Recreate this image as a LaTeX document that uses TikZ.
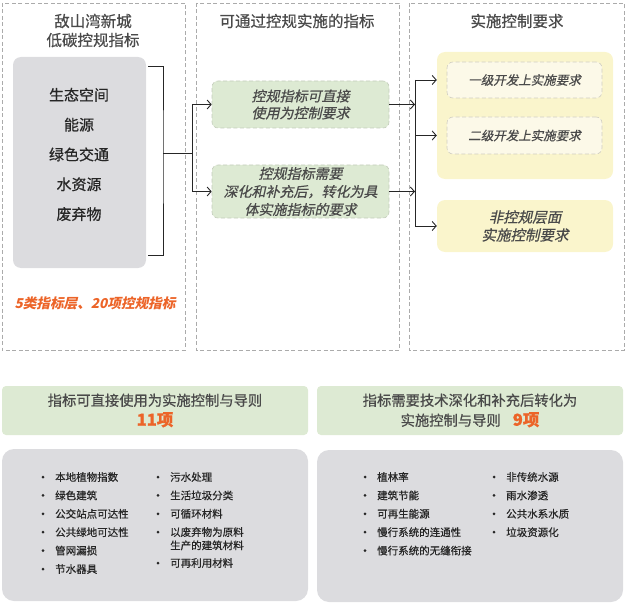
\documentclass[tikz,border=0pt]{standalone}
\usepackage{fontspec}
\setmainfont{Noto Sans CJK SC}
\newfontfamily\medcjk[FakeBold=0.6]{Noto Sans CJK SC}
\newfontfamily\slantcjk[FakeSlant=0.22, FakeBold=0.6]{Noto Sans CJK SC}
\newfontfamily\slantbold[FakeSlant=0.22]{Noto Sans CJK SC}
\usetikzlibrary{arrows.meta, calc}
\definecolor{ink}{HTML}{262626}
\definecolor{inksec}{HTML}{4A4A4A}
\definecolor{frame}{HTML}{ABABAB}
\definecolor{panelgray}{HTML}{DCDCDF}
\definecolor{leaf}{HTML}{DDEAD3}
\definecolor{leafline}{HTML}{C3CCBA}
\definecolor{straw}{HTML}{FAF5CC}
\definecolor{strawin}{HTML}{FCF9E8}
\definecolor{strawline}{HTML}{D0CEC2}
\definecolor{accent}{HTML}{EC6428}

\begin{document}
\begin{tikzpicture}[x=1pt, y=-1pt,
    title/.style={font=\medcjk\fontsize{15.5}{19}\selectfont, text=inksec, align=center},
    graybox/.style={fill=panelgray, rounded corners=8pt, inner sep=0},
    leafbox/.style={draw=leafline, dash pattern=on 4pt off 2.5pt, line width=0.6pt, fill=leaf, rounded corners=6pt,
      inner sep=0, align=center, text=inksec, font=\slantcjk\fontsize{14}{17}\selectfont},
    strawbox/.style={fill=straw, rounded corners=8pt, inner sep=0, align=center, text=inksec,
      font=\slantcjk\fontsize{14.5}{18}\selectfont},
    strawin/.style={draw=strawline, dash pattern=on 4pt off 2.5pt, line width=0.6pt, fill=strawin, rounded corners=6pt,
      inner sep=0, text=inksec, font=\slantcjk\fontsize{12.5}{15}\selectfont},
    headbox/.style={fill=leaf, rounded corners=4pt, inner sep=0, align=center, text=inksec,
      font=\medcjk\fontsize{14.3}{20}\selectfont, minimum width=306pt, minimum height=49pt},
    item/.style={anchor=west, inner sep=0, text=ink, align=left, font=\medcjk\fontsize{10.5}{13.3}\selectfont},
    wire/.style={line width=0.9pt, ink},
    arw/.style={wire, -{Straight Barb[length=4pt, width=9pt]}}]
  \useasboundingbox (0,0) rectangle (640,615);
  % three dashed panels
  \draw[frame, dash pattern=on 4pt off 2.5pt, line width=0.7pt] (2,3) rectangle (185,350);
  \draw[frame, dash pattern=on 4pt off 2.5pt, line width=0.7pt] (196,3) rectangle (399,350);
  \draw[frame, dash pattern=on 4pt off 2.5pt, line width=0.7pt] (409,3) rectangle (624,350);
  \node[title] (t1) at (93,30.5) {敌山湾新城\\低碳控规指标};
  \node[title] (t2) at (297,21) {可通过控规实施的指标};
  \node[title] (t3) at (517,21) {实施控制要求};

  % left panel
  \node[graybox, minimum width=133pt, minimum height=211pt] (src) at (79.5,162.5) {};
  \node[align=center, text=ink, font=\medcjk\fontsize{15}{29.8}\selectfont] (layers) at (79,154.5)
    {生态空间\\能源\\绿色交通\\水资源\\废弃物};
  \node[text=accent, font=\slantbold\bfseries\fontsize{13.6}{15}\selectfont] (tally) at (95,303)
    {5类指标层、20项控规指标};

  % middle panel
  \node[leafbox, minimum width=177pt, minimum height=47pt] (g1) at (300.5,104.5) {控规指标可直接\\使用为控制要求};
  \node[leafbox, minimum width=177pt, minimum height=53pt, font=\slantcjk\fontsize{14}{18}\selectfont] (g2) at (300.5,191.5)
    {控规指标需要\\深化和补充后，转化为具\\体实施指标的要求};

  % right panel
  \node[strawbox, minimum width=176pt, minimum height=127pt] (big) at (525,115.5) {};
  \node[strawin, minimum width=155pt, minimum height=36pt] (r1) at (524.5,80) {一级开发上实施要求};
  \node[strawin, minimum width=155pt, minimum height=37pt] (r2) at (524.5,135.5) {二级开发上实施要求};
  \node[strawbox, minimum width=176pt, minimum height=52pt] (y3) at (525,226) {非控规层面\\实施控制要求};

  % connectors
  \coordinate (brtop) at (148,66);
  \coordinate (brbot) at (148,255);
  \coordinate (brmid) at (163,153);
  \coordinate (fork) at (192,153);
  \coordinate (bus) at (415,0);
  \draw[wire] (brtop) -| (brmid) |- (brbot);
  \draw[wire] (brmid) -- (fork);
  \draw[arw] (fork) |- (g1.west);
  \draw[arw] (fork) |- (g2.west);
  \draw[arw] (g1.east) -- (g1.east -| bus);
  \draw[arw] (g2.east) -- (g2.east -| bus);
  \draw[wire] (bus |- r1) -- (bus |- y3);
  \draw[arw] (bus |- r1) -- (big.west |- r1);
  \draw[arw] (bus |- r2) -- (big.west |- r2);
  \draw[arw] (bus |- y3) -- (y3.west);

  % lower summary
  \node[headbox] (h1) at (155,410.5) {指标可直接使用为实施控制与导则\\{\color{accent}\bfseries\fontsize{16.5}{18}\selectfont 11项}};
  \node[headbox] (h2) at (470,410.5) {指标需要技术深化和补充后转化为\\实施控制与导则\hspace{12pt}{\color{accent}\bfseries\fontsize{16.5}{18}\selectfont 9项}};
  \node[graybox, rounded corners=12pt, minimum width=306pt, minimum height=152pt] (b1) at (155,525) {};
  \node[graybox, rounded corners=12pt, minimum width=306pt, minimum height=152pt] (b2) at (470,526) {};

  \foreach \t [count=\i] in {本地植物指数, 绿色建筑, 公交站点可达性, 公共绿地可达性, 管网漏损, 节水器具} {
    \node[item] (la\i) at (55,458.6+18.4*\i) {\t};
    \fill[ink] ($(la\i.west)+(-12,0)$) circle (1.5pt);
  }
  \foreach \t [count=\i] in {污水处理, 生活垃圾分类, 可循环材料} {
    \node[item] (lb\i) at (170,458.6+18.4*\i) {\t};
    \fill[ink] ($(lb\i.west)+(-12,0)$) circle (1.5pt);
  }
  \node[item] (lb4) at (170,538.7) {以废弃物为原料\\生产的建筑材料};
  \fill[ink] (158,532) circle (1.5pt);
  \node[item] (lb5) at (170,563) {可再利用材料};
  \fill[ink] (158,563) circle (1.5pt);

  \foreach \t [count=\i] in {植林率, 建筑节能, 可再生能源, 慢行系统的连通性, 慢行系统的无缝衔接} {
    \node[item] (ra\i) at (377,458.6+18.4*\i) {\t};
    \fill[ink] ($(ra\i.west)+(-12,0)$) circle (1.5pt);
  }
  \foreach \t [count=\i] in {非传统水源, 雨水渗透, 公共水系水质, 垃圾资源化} {
    \node[item] (rb\i) at (506,458.6+18.4*\i) {\t};
    \fill[ink] ($(rb\i.west)+(-12,0)$) circle (1.5pt);
  }
\end{tikzpicture}
\end{document}
